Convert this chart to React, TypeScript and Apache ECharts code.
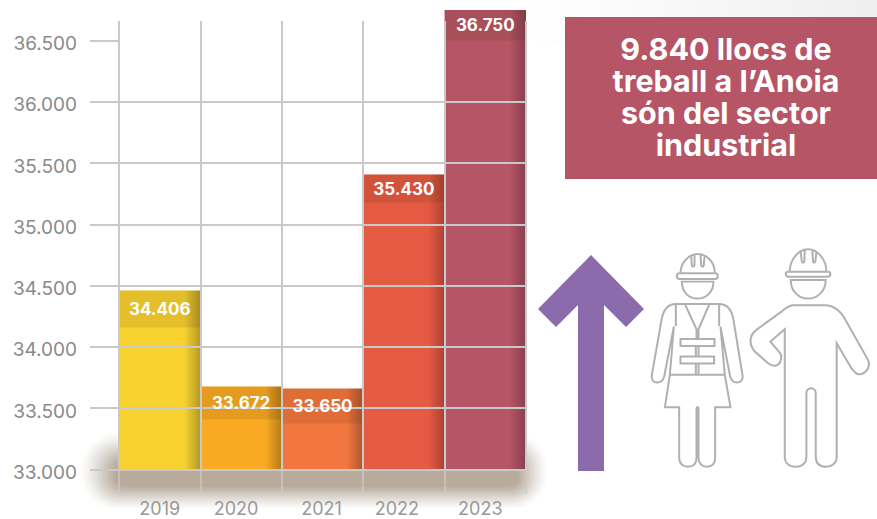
import React, { useEffect, useRef } from "react";
import * as echarts from "echarts";

const years = ["2019", "2020", "2021", "2022", "2023"];
const jobs = [34406, 33672, 33650, 35430, 36750];
const barTops = [34460, 33677, 33661, 35407, 36750];
const stripFloors = [34158, 33408, 33375, 35178, 36500];
const barColors = ["#f8d22f", "#f9aa22", "#f1763f", "#e45a43", "#b55565"];
const barEdges = ["#b39a26", "#b47a1c", "#ad5630", "#a94232", "#8a3f4e"];
const yTicks = [33000, 33500, 34000, 34500, 35000, 35500, 36000, 36500];
const headline = ["9.840 llocs de", "treball a l’Anoia", "són del sector", "industrial"];

const FONT = "Inter";
const GRID = "#c9c9c9";
const AXIS_MIN = 33000;
const SHADOW_LAYERS = 24;
const LABEL_SHIFT = [0, 10, 2, 14, 10];

const fmt = (v: number) => String(v).replace(/(\d)(\d{3})$/, "$1.$2");

const womanPath =
  "M452 100C452 65 480 42 503 42C530 42 555 65 555 100" +
  "M484 50L486 76Q490 84 494 76L494 44M512 44L514 76Q518 84 522 76L524 50" +
  "M449 100L556 100Q564 100 564 108Q564 117 556 117L449 117Q441 117 441 108Q441 100 449 100Z" +
  "M456 125L551 125C551 155 530 176 503 176C476 176 456 155 456 125Z" +
  "M438 192C415 192 400 210 395 240L366 405C363 420 372 428 382 428C395 428 400 420 403 410L432 260" +
  "M568 192C591 192 606 210 611 240L638 405C641 420 632 428 622 428C609 428 604 420 601 410L572 260" +
  "M438 192L568 192M438 192L438 258M568 192L568 258" +
  "M432 260L420 405L585 405L572 260" +
  "M466 194L500 268L500 296M538 194L506 268L506 296" +
  "M452 297L554 297L554 318L452 318Z M452 350L553 350L553 371L452 371Z" +
  "M498 318L498 350M506 318L506 350M498 371L498 405M506 371L506 405" +
  "M420 405L405 502L448 502L448 655C448 672 460 681 474 681C490 681 500 672 500 655L500 505Q503 498 506 505L506 655C506 672 518 681 530 681C546 681 556 672 556 655L556 502L602 502L585 405";

const manPath =
  "M780 95C780 60 805 28 835 28C865 28 890 60 890 95" +
  "M813 36L816 64Q820 72 824 64L825 30M848 30L850 64Q853 72 857 64L860 36" +
  "M776 95L894 95Q902 95 902 102Q902 110 894 110L776 110Q768 110 768 102Q768 95 776 95Z" +
  "M783 120L888 120C888 155 862 176 835 176C808 176 783 155 783 120Z" +
  "M790 196L885 196C915 196 935 215 950 245L1015 360C1025 385 1005 405 985 403C975 400 970 390 965 385L921 310L921 650C921 672 905 681 890 681C870 681 858 670 858 650L858 460C858 440 830 440 830 460L830 650C830 672 815 681 797 681C778 681 765 670 765 650L765 268L722 305L750 338C755 345 757 352 752 365C745 380 730 382 715 370L675 335C655 310 660 285 680 270L755 215C768 205 778 196 790 196Z";

echarts.graphic.registerShape("workerWoman", echarts.graphic.extendPath(womanPath, {}));
echarts.graphic.registerShape("workerMan", echarts.graphic.extendPath(manPath, {}));

const shadowLayers = Array.from({ length: SHADOW_LAYERS }, (_, i) => {
  const t = i / (SHADOW_LAYERS - 1);
  const before = (i / SHADOW_LAYERS) ** 1.3;
  const after = ((i + 1) / SHADOW_LAYERS) ** 1.3;
  return {
    type: "rect",
    z: -1,
    z2: i,
    shape: {
      x: 80 + t * 36,
      y: 432 + t * 30,
      width: 468 - t * 66,
      height: 78 - t * 54,
      r: 36 - t * 28,
    },
    style: { fill: "#b9ab9c", opacity: (after - before) / (1 - before) },
  };
});

const shiftedLabelStyles = Object.fromEntries(
  LABEL_SHIFT.map((shift, i) => [`y${i}`, { padding: [0, shift, 0, 0], color: "#999999", fontFamily: FONT, fontSize: 18 }]),
);

export default function App() {
  const ref = useRef<HTMLDivElement>(null);
  useEffect(() => {
    document.body.style.margin = "0";
    const chart = echarts.init(ref.current!, undefined, { renderer: "svg" });
    chart.setOption({
      animation: false,
      backgroundColor: "#ffffff",
      grid: { left: 119, right: 351, top: 21, bottom: 49.5 },
      xAxis: {
        type: "category",
        data: years,
        z: 3,
        axisLine: { show: false },
        axisTick: { show: true, interval: 0, length: 24, lineStyle: { color: GRID, width: 1.5 } },
        splitLine: { show: true, interval: 0, lineStyle: { color: GRID, width: 2 } },
        axisLabel: {
          interval: 0,
          margin: 30,
          lineHeight: 18,
          color: "#999999",
          fontFamily: FONT,
          fontSize: 18,
          formatter: (v: string, i: number) => `{y${i}|${v}}`,
          rich: shiftedLabelStyles,
        },
      },
      yAxis: {
        type: "value",
        min: AXIS_MIN,
        max: 36660,
        interval: 500,
        z: 3,
        axisLine: { show: false },
        axisTick: { show: true, length: 29, customValues: yTicks, lineStyle: { color: GRID, width: 2 } },
        splitLine: { show: true, showMaxLine: false, lineStyle: { color: GRID, width: 2 } },
        axisLabel: {
          customValues: yTicks,
          margin: 42,
          verticalAlign: "top",
          lineHeight: 6,
          color: "#8a8a8a",
          fontFamily: FONT,
          fontSize: 19,
          formatter: (v: number) => fmt(v),
        },
      },
      series: [
        {
          type: "custom",
          name: "Bars",
          z: 2,
          clip: false,
          encode: { x: 0, y: 1 },
          data: barTops.map((top, i) => [i, top]),
          renderItem: (_p: any, api: any) => {
            const i = api.value(0);
            const top = api.coord([i, api.value(1)]);
            const base = api.coord([i, AXIS_MIN]);
            const w = api.size([1, 0])[0];
            return {
              type: "rect",
              shape: { x: top[0] - w / 2, y: top[1], width: w, height: base[1] - top[1] },
              style: {
                fill: new echarts.graphic.LinearGradient(0, 0, 1, 0, [
                  { offset: 0, color: barColors[i] },
                  { offset: 0.8, color: barColors[i] },
                  { offset: 1, color: barEdges[i] },
                ]),
              },
            };
          },
        },
        {
          type: "custom",
          name: "Strips",
          z: 2,
          clip: false,
          encode: { x: 0, y: [1, 2] },
          data: barTops.map((top, i) => [i, top, stripFloors[i]]),
          renderItem: (_p: any, api: any) => {
            const top = api.coord([api.value(0), api.value(1)]);
            const bottom = api.coord([api.value(0), api.value(2)]);
            const w = api.size([1, 0])[0];
            return {
              type: "rect",
              shape: { x: top[0] - w / 2, y: top[1], width: w, height: bottom[1] - top[1] },
              style: { fill: "rgba(60,30,0,0.10)" },
            };
          },
        },
        {
          type: "custom",
          name: "Labels",
          z: 5,
          clip: false,
          encode: { x: 0, y: [1, 2] },
          data: barTops.map((top, i) => [i, top, stripFloors[i], jobs[i]]),
          renderItem: (_p: any, api: any) => {
            const top = api.coord([api.value(0), api.value(1)]);
            const bottom = api.coord([api.value(0), api.value(2)]);
            return {
              type: "text",
              style: {
                text: fmt(api.value(3)),
                x: top[0],
                y: (top[1] + bottom[1]) / 2,
                align: "center",
                verticalAlign: "middle",
                fill: "#ffffff",
                fontFamily: FONT,
                fontWeight: 700,
                fontSize: 17,
              },
            };
          },
        },
      ],
      graphic: {
        elements: [
          {
            type: "rect",
            z: -2,
            shape: { x: 527, y: 0, width: 350, height: 44 },
            style: {
              fill: new echarts.graphic.LinearGradient(0, 0, 1, 0, [
                { offset: 0, color: "#ffffff" },
                { offset: 1, color: "#efefef" },
              ]),
            },
          },
          ...shadowLayers,
          {
            type: "rect",
            z: 6,
            shape: { x: 565, y: 17, width: 312, height: 162 },
            style: { fill: "#b55565" },
          },
          {
            type: "text",
            z: 7,
            style: {
              text: headline.join("\n"),
              x: 726,
              y: 96.5,
              align: "center",
              verticalAlign: "middle",
              lineHeight: 31.7,
              fill: "#ffffff",
              fontFamily: FONT,
              fontWeight: 700,
              fontSize: 30.5,
            },
          },
          {
            type: "polygon",
            z: 6,
            shape: {
              points: [
                [591, 255], [644, 309], [626, 327], [604, 305], [604, 471],
                [578, 471], [578, 305], [556, 327], [538, 309],
              ],
            },
            style: { fill: "#8c6bac" },
          },
          {
            type: "workerWoman",
            z: 6,
            x: 530,
            y: 240,
            scaleX: 1 / 3,
            scaleY: 1 / 3,
            style: { fill: "none", stroke: "#b0b0b0", lineWidth: 6 },
          },
          {
            type: "workerMan",
            z: 6,
            x: 530,
            y: 240,
            scaleX: 1 / 3,
            scaleY: 1 / 3,
            style: { fill: "none", stroke: "#b0b0b0", lineWidth: 6 },
          },
        ],
      },
    });
    return () => chart.dispose();
  }, []);
  return <div ref={ref} style={{ position: "absolute", left: 0, top: 0, width: 877, height: 519 }} />;
}
